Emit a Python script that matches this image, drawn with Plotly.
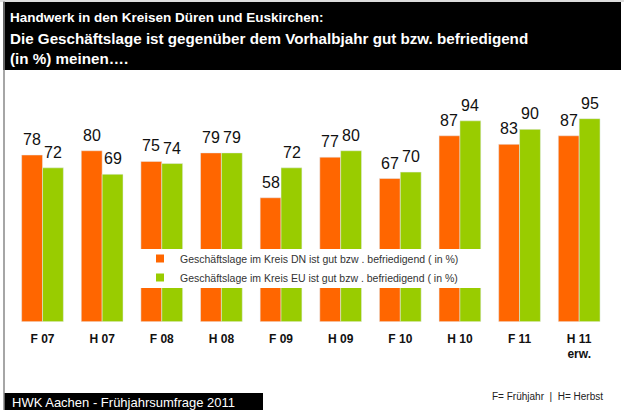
import plotly.graph_objects as go

categories = ["F 07", "H 07", "F 08", "H 08", "F 09", "H 09", "F 10", "H 10", "F 11", "H 11<br>erw."]
dn_values = [78, 80, 75, 79, 58, 77, 67, 87, 83, 87]
eu_values = [72, 69, 74, 79, 72, 80, 70, 94, 90, 95]
dn_name = "Geschäftslage im Kreis DN ist gut bzw . befriedigend ( in %)"
eu_name = "Geschäftslage im Kreis EU ist gut bzw . befriedigend ( in %)"
title_lines = [
    "Handwerk in den Kreisen Düren und Euskirchen:",
    "Die Geschäftslage ist gegenüber dem Vorhalbjahr gut bzw. befriedigend",
    "(in %) meinen….",
]
footer_left = "HWK Aachen - Frühjahrsumfrage 2011"
footer_right = "F= Frühjahr  |  H= Herbst"

ORANGE = "#FF6600"
GREEN = "#99CC00"
W, H = 624, 410

def px(x):
    return x / W

def py(y):
    return (H - y) / H

fig = go.Figure()
fig.add_trace(go.Bar(x=categories, y=dn_values, marker_color=ORANGE, showlegend=False, hoverinfo="skip"))
fig.add_trace(go.Bar(x=categories, y=eu_values, marker_color=GREEN, showlegend=False, hoverinfo="skip"))
# legend-only entries
fig.add_trace(go.Scatter(x=[None], y=[None], mode="markers", name=dn_name,
                         marker=dict(symbol="square", size=8, color=ORANGE)))
fig.add_trace(go.Scatter(x=[None], y=[None], mode="markers", name=eu_name,
                         marker=dict(symbol="square", size=8, color=GREEN)))

annotations = []
for cat, v, shift in [(c, v, -10.5) for c, v in zip(categories, dn_values)] + \
                     [(c, v, 10.5) for c, v in zip(categories, eu_values)]:
    annotations.append(dict(x=cat, y=v, xref="x", yref="y", text=str(v), showarrow=False,
                            xanchor="center", yanchor="bottom", xshift=shift, yshift=5,
                            font=dict(size=16, color="#111")))

shapes = [
    # white cover behind legend
    dict(type="rect", xref="paper", yref="paper", x0=px(128), x1=px(490), y0=py(288), y1=py(249),
         fillcolor="white", line=dict(width=0), layer="above"),
    # title bar
    dict(type="rect", xref="paper", yref="paper", x0=px(3), x1=px(621), y0=py(70), y1=py(2),
         fillcolor="black", line=dict(width=0), layer="above"),
    # footer box
    dict(type="rect", xref="paper", yref="paper", x0=px(4), x1=px(263), y0=0, y1=py(393),
         fillcolor="black", line=dict(width=0), layer="above"),
    # frame lines
    dict(type="line", xref="paper", yref="paper", x0=px(4), x1=px(4), y0=0, y1=py(1),
         line=dict(color="#888", width=1.5), layer="above"),
    dict(type="line", xref="paper", yref="paper", x0=0, x1=1, y0=py(1), y1=py(1),
         line=dict(color="#bbb", width=1), layer="above"),
]

for line, yc, fs in zip(title_lines, [17, 39, 58], [13.5, 15.2, 15.2]):
    annotations.append(dict(text="<b>" + line + "</b>", xref="paper", yref="paper", x=px(8), y=py(yc),
                            xanchor="left", yanchor="middle", showarrow=False,
                            font=dict(size=fs, color="white")))
annotations.append(dict(text=footer_left, xref="paper", yref="paper", x=px(10), y=py(402),
                        xanchor="left", yanchor="middle", showarrow=False,
                        font=dict(size=13, color="white")))
annotations.append(dict(text=footer_right, xref="paper", yref="paper", x=px(605), y=py(396),
                        xanchor="right", yanchor="middle", showarrow=False,
                        font=dict(size=10, color="#222")))

fig.update_layout(
    width=W, height=H,
    margin=dict(l=0, r=0, t=0, b=0),
    paper_bgcolor="white", plot_bgcolor="white",
    font=dict(family="Liberation Sans, Arial, sans-serif", color="#111"),
    barmode="group", bargap=0.3, bargroupgap=0,
    xaxis=dict(domain=[px(12.7), px(609)], showline=False, showgrid=False, ticks="",
               tickfont=dict(size=12, color="#111", weight="bold"), ticklabelstandoff=8),
    yaxis=dict(domain=[py(321.7), py(108)], range=[0, 100], visible=False),
    legend=dict(x=px(140), y=py(244), xanchor="left", yanchor="top", bgcolor="rgba(0,0,0,0)",
                font=dict(size=10.5, color="#333"), itemwidth=30, tracegroupgap=0),
    shapes=shapes, annotations=annotations,
)

fig.write_html("out.html", config={"displayModeBar": False},
               post_script="document.body.style.margin='0';document.body.style.overflow='hidden';")
